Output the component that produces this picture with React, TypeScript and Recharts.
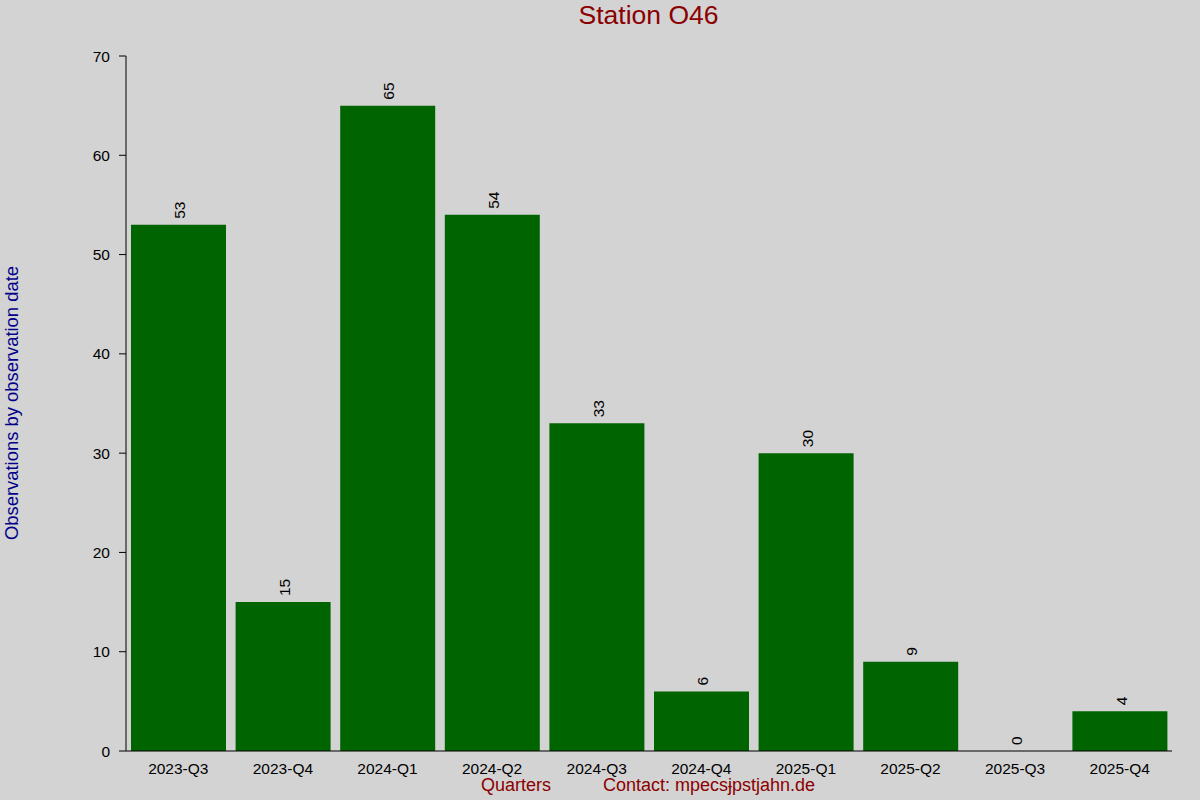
import React from 'react';
import { ComposedChart, Bar, Line, XAxis, YAxis, LabelList } from 'recharts';

const quarters = ['2023-Q3', '2023-Q4', '2024-Q1', '2024-Q2', '2024-Q3', '2024-Q4', '2025-Q1', '2025-Q2', '2025-Q3', '2025-Q4'];
const observations = [53, 15, 65, 54, 33, 6, 30, 9, 0, 4];
const yTicks = [0, 10, 20, 30, 40, 50, 60, 70];

const data = quarters.map((q, i) => ({ q, v: observations[i] }));

const FONT = '"Liberation Sans", Arial, sans-serif';

const ValueLabel = (props: any) => {
  const { x, y, value } = props;
  if (!Number.isFinite(x) || !Number.isFinite(y)) return null;
  const ty = y - 6;
  const tx = x + 7;
  return (
    <text x={tx} y={ty} transform={`rotate(-90 ${tx} ${ty})`} fontSize={15.5} fill="#000" fontFamily={FONT} textAnchor="start">
      {value}
    </text>
  );
};

const TopTick = (props: any) => {
  const { x, y } = props;
  if (!Number.isFinite(x) || !Number.isFinite(y)) return null;
  return <rect x={x - 0.5} y={y - 0.5} width={1} height={1} fill="#000" />;
};

export default function App() {
  return (
    <div style={{ position: 'absolute', left: 0, top: 0, width: 1200, height: 800, background: '#d3d3d3', fontFamily: FONT }}>
      <div style={{ position: 'absolute', left: 0, top: 0, width: 1297, textAlign: 'center', fontSize: 26.5, color: '#8b0000' }}>Station O46</div>
      <div style={{ position: 'absolute', left: 481, top: 775, fontSize: 18, color: '#8b0000' }}>Quarters</div>
      <div style={{ position: 'absolute', left: 603, top: 775, fontSize: 18, color: '#8b0000' }}>Contact: mpecsɉpstjahn.de</div>
      <div style={{ position: 'absolute', left: 12, top: 403, fontSize: 18.4, color: '#00008b', whiteSpace: 'nowrap', transform: 'translate(-50%, -50%) rotate(-90deg)' }}>Observations by observation date</div>
      <ComposedChart width={1200} height={800} data={data} margin={{ top: 56, right: 28, left: 0, bottom: 0 }} barCategoryGap={5}>
        <XAxis xAxisId="top" dataKey="q" orientation="top" height={0} axisLine={false} tickLine={false} tickSize={0} tickMargin={0} tick={<TopTick />} interval={0} />
        <XAxis dataKey="q" height={49} axisLine={{ stroke: '#000' }} tickLine={false} tick={{ fill: '#000', fontSize: 15.5, fontFamily: FONT }} interval={0} tickMargin={6} />
        <YAxis width={126} domain={[0, 70]} ticks={yTicks} axisLine={{ stroke: '#000' }} tickLine={{ stroke: '#000' }} tickSize={7} tick={{ fill: '#000', fontSize: 15.5, fontFamily: FONT }} tickMargin={9} />
        <Bar dataKey="v" fill="#006400" isAnimationActive={false} />
        <Line dataKey="v" stroke="none" dot={false} activeDot={false} isAnimationActive={false}>
          <LabelList dataKey="v" content={<ValueLabel />} />
        </Line>
      </ComposedChart>
    </div>
  );
}
